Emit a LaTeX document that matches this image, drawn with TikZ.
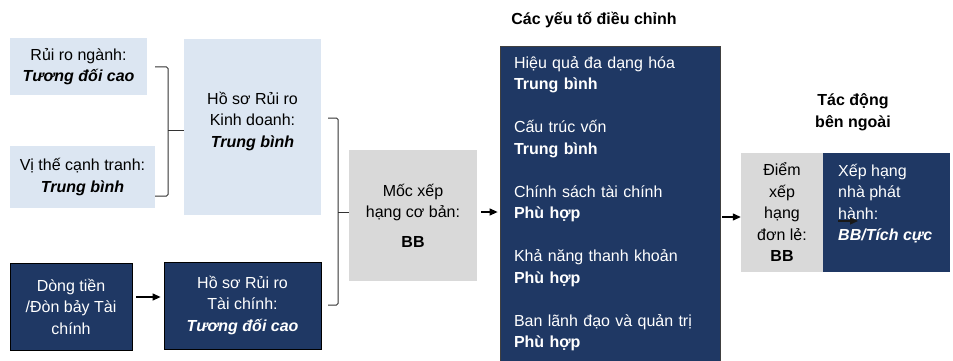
\documentclass[tikz,border=0pt]{standalone}
\usepackage{fontspec}
\setmainfont{Liberation Sans}
\usetikzlibrary{arrows.meta,calc}
\definecolor{cLight}{HTML}{DCE6F2}
\definecolor{cNavy}{HTML}{1F3864}
\definecolor{cGray}{HTML}{D9D9D9}
\begin{document}
\begin{tikzpicture}[x=1pt,y=-1pt,
  every node/.style={font=\fontsize{16}{21.5}\selectfont, inner sep=0pt},
  lightbox/.style={fill=cLight, align=center},
  darkbox/.style={fill=cNavy, draw=black, line width=0.8pt, text=white},
  graybox/.style={fill=cGray, align=center},
  conn/.style={line width=1.2pt, -{Triangle[length=8pt,width=7pt]}},
  bracket/.style={line width=1pt, draw=black!80, rounded corners=1.5pt},
  heading/.style={font=\fontsize{16}{22}\selectfont\bfseries, align=center}]
\useasboundingbox[fill=white] (0,0) rectangle (953,361);

% left column
\node[lightbox, minimum width=137pt, minimum height=57pt] (nganh) at (78.5,66.5)
  {Rủi ro ngành:\\\textbf{\textit{Tương đối cao}}};
\node[lightbox, minimum width=145pt, minimum height=62pt] (vithe) at (82.5,177)
  {Vị thế cạnh tranh:\\\textbf{\textit{Trung bình}}};
\node[lightbox, minimum width=137pt, minimum height=176pt] (hskd) at (252.5,127) {};
\node[align=center] (hskdtext) at (252.5,121.5)
  {Hồ sơ Rủi ro\\Kinh doanh:\\\textbf{\textit{Trung bình}}};
\node[darkbox, align=center, minimum width=122pt, minimum height=87pt] (dong) at (71,306.5)
  {Dòng tiền\\/Đòn bảy Tài\\chính};
\node[darkbox, align=center, minimum width=157pt, minimum height=87pt] (hstc) at (242.5,305.5)
  {Hồ sơ Rủi ro\\Tài chính:\\\textbf{\textit{Tương đối cao}}};

% base rating
\node[graybox, minimum width=128pt, minimum height=131pt] (moc) at (413,215.5)
  {Mốc xếp\\hạng cơ bản:\\[8pt]\textbf{BB}};

% adjustment factors
\node[heading] (tadj) at (594,20) {Các yếu tố điều chỉnh};
\node[darkbox, draw=black!75, minimum width=220pt, minimum height=315pt,
      text width=192pt, inner xsep=14pt, align=left] (big) at (610,203.5)
  {Hiệu quả đa dạng hóa\\\textbf{Trung bình}\\[21.5pt]
   Cấu trúc vốn\\\textbf{Trung bình}\\[21.5pt]
   Chính sách tài chính\\\textbf{Phù hợp}\\[21.5pt]
   Khả năng thanh khoản\\\textbf{Phù hợp}\\[21.5pt]
   Ban lãnh đạo và quản trị\\\textbf{Phù hợp}};

% external
\node[heading] (text) at (853,112) {Tác động\\bên ngoài};
\node[graybox, minimum width=82pt, minimum height=119pt] (diem) at (782,212.5)
  {Điểm\\xếp\\hạng\\đơn lẻ:\\\textbf{BB}};
\node[darkbox, draw=none, minimum width=127pt, minimum height=119pt] (xh) at (886.5,212.5) {};
\node[anchor=west, align=left, text=white] (xhtext) at (838,203.5)
  {Xếp hạng\\nhà phát\\hành:\\\textbf{\textit{BB/Tích cực}}};

% brackets
\coordinate (b1t) at (155,67);
\coordinate (b1b) at (155,196);
\draw[bracket] (b1t) -- (168,67) -- (168,196) -- (b1b);
\draw[bracket] (168,130) -- (hskd.west |- 0,130);

\coordinate (b2t) at (328,118);
\coordinate (b2b) at (328,305);
\draw[bracket] (b2t) -- (338,118) -- (338,305) -- (b2b);
\draw[bracket] (338,212) -- (moc.west |- 0,212);

% arrows
\draw[conn] (dong.east |- 0,297) ++(4,0) -- ($(hstc.west |- 0,297)+(-3,0)$);
\draw[conn] (moc.east |- 0,212) ++(4,0) -- ($(big.west |- 0,212)+(-2,0)$);
\draw[conn] (big.east |- 0,217) ++(2,0) -- (diem.west |- 0,217);
\coordinate (sa) at (838,221);
\coordinate (sb) at (858,221);
\draw[conn, draw=black!90] (sa) -- (sb);
\end{tikzpicture}
\end{document}
